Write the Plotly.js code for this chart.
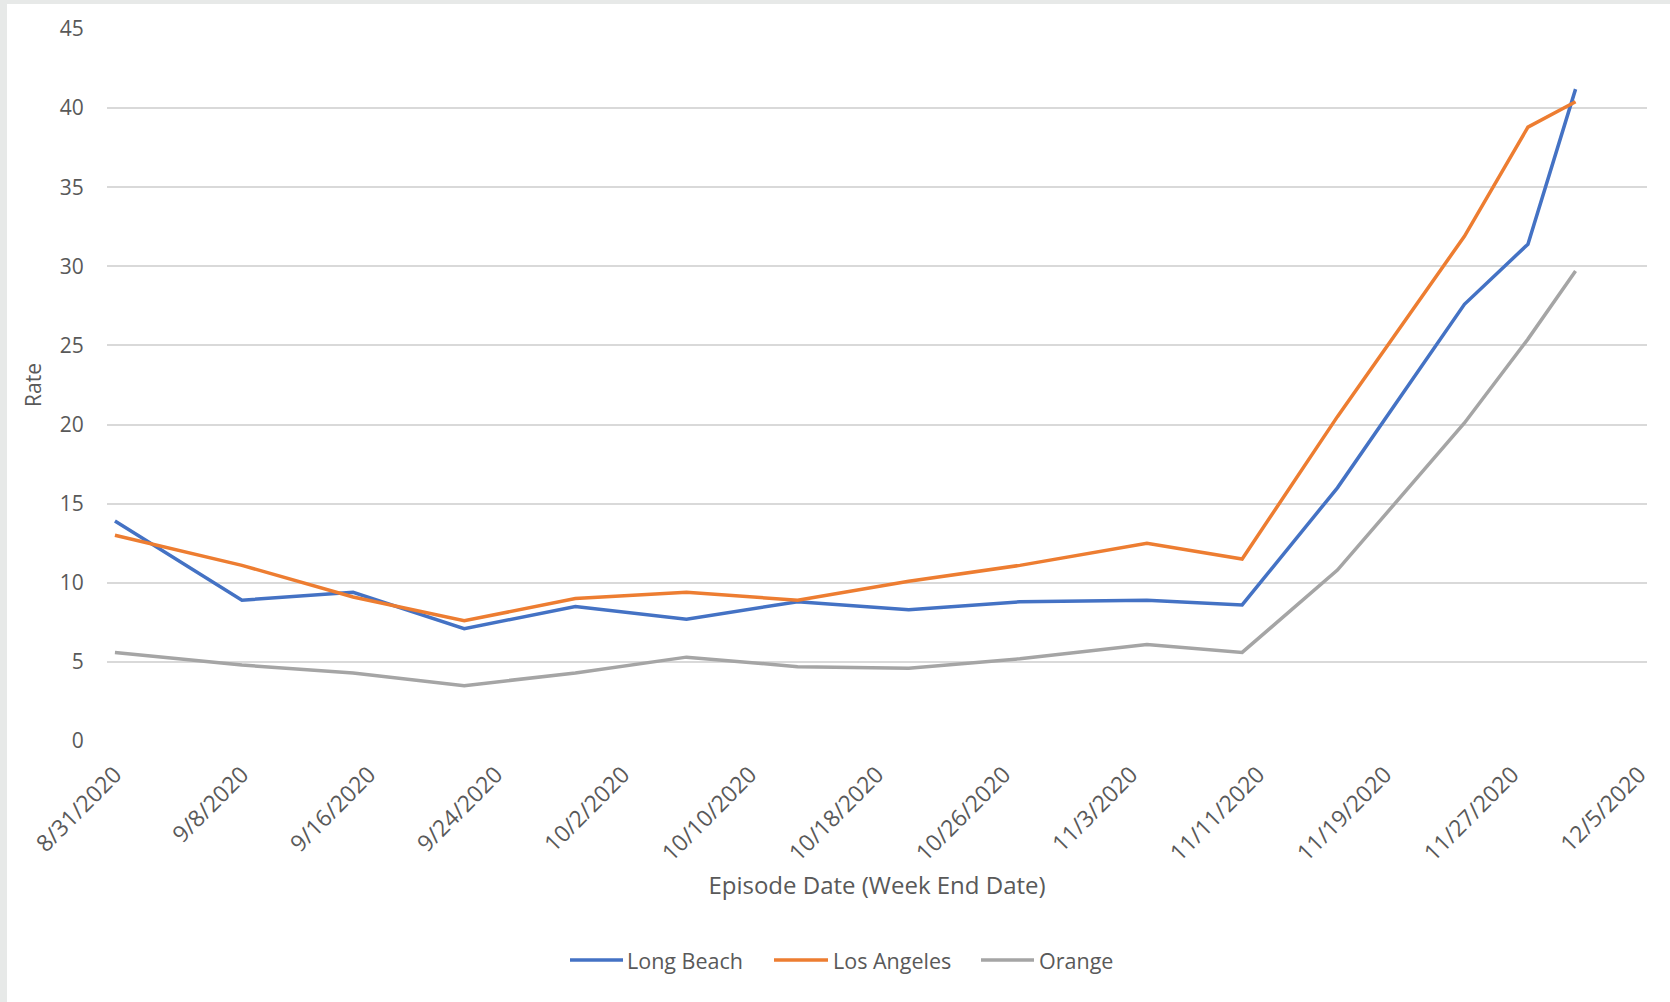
<!DOCTYPE html>
<html>
<head>
<meta charset="utf-8">
<script src="https://cdn.plot.ly/plotly-3.0.1.min.js"></script>
<style>
  html, body { margin: 0; padding: 0; background: #e7e9e8; width: 1670px; height: 1002px; overflow: hidden; }
  #chart { position: absolute; left: 7px; top: 4px; width: 1663px; height: 998px; background: #ffffff; }
</style>
</head>
<body>
<div id="chart"></div>
<script>
// Data
const weekEndDates = ['2020-08-31','2020-09-08','2020-09-15','2020-09-22','2020-09-29','2020-10-06','2020-10-13','2020-10-20','2020-10-27','2020-11-04','2020-11-10','2020-11-16','2020-11-24','2020-11-28','2020-12-01'];
const longBeach  = [13.9, 8.9, 9.4, 7.1, 8.5, 7.7, 8.8, 8.3, 8.8, 8.9, 8.6, 16.0, 27.6, 31.4, 41.2];
const losAngeles = [13.0, 11.1, 9.1, 7.6, 9.0, 9.4, 8.9, 10.1, 11.1, 12.5, 11.5, 20.5, 31.9, 38.8, 40.4];
const orange     = [5.6, 4.8, 4.3, 3.5, 4.3, 5.3, 4.7, 4.6, 5.2, 6.1, 5.6, 10.8, 20.1, 25.4, 29.7];

const tickDates  = ['2020-08-31','2020-09-08','2020-09-16','2020-09-24','2020-10-02','2020-10-10','2020-10-18','2020-10-26','2020-11-03','2020-11-11','2020-11-19','2020-11-27','2020-12-05'];
const tickLabels = ['8/31/2020','9/8/2020','9/16/2020','9/24/2020','10/2/2020','10/10/2020','10/18/2020','10/26/2020','11/3/2020','11/11/2020','11/19/2020','11/27/2020','12/5/2020'];
const yTicks = [0, 5, 10, 15, 20, 25, 30, 35, 40, 45];

const seriesNames = ['Long Beach', 'Los Angeles', 'Orange'];
const seriesValues = [longBeach, losAngeles, orange];
const seriesColors = ['#4472C4', '#ED7D31', '#A5A5A5'];

const textColor = '#595959';
const font = 'Open Sans, sans-serif';

// Plot geometry (pixels inside the chart div)
const W = 1663, H = 998;
const M = { l: 100, r: 23, t: 25, b: 261 };
const plotW = W - M.l - M.r, plotH = H - M.t - M.b;
const pxX = x => (x - M.l) / plotW;
const pxY = y => (H - M.b - y) / plotH;

const traces = seriesNames.map((name, i) => ({
  type: 'scatter',
  mode: 'lines',
  name: name,
  x: weekEndDates,
  y: seriesValues[i],
  line: { color: seriesColors[i], width: 3.5 },
  showlegend: false,
  hoverinfo: 'x+y+name'
}));

// Custom legend (Excel style: long line key, text right after it)
const legendY = 956;
const legendItems = [
  { lineX0: 563, lineX1: 616, textX: 619 },
  { lineX0: 767, lineX1: 821, textX: 825 },
  { lineX0: 974, lineX1: 1027, textX: 1031 }
];
const shapes = legendItems.map((it, i) => ({
  type: 'line', xref: 'paper', yref: 'paper',
  x0: pxX(it.lineX0), x1: pxX(it.lineX1), y0: pxY(legendY), y1: pxY(legendY),
  line: { color: seriesColors[i], width: 3.5 }
}));
const annotations = legendItems.map((it, i) => ({
  xref: 'paper', yref: 'paper',
  x: pxX(it.textX), y: pxY(legendY),
  xanchor: 'left', yanchor: 'middle',
  text: seriesNames[i], showarrow: false,
  borderpad: 0,
  font: { family: font, color: textColor, size: 21.5 }
}));

const layout = {
  width: W,
  height: H,
  paper_bgcolor: '#ffffff',
  plot_bgcolor: '#ffffff',
  margin: M,
  font: { family: font, color: textColor, size: 21 },
  showlegend: false,
  shapes: shapes,
  annotations: annotations,
  xaxis: {
    type: 'date',
    range: ['2020-08-30 12:00', '2020-12-05 12:00'],
    tickmode: 'array',
    tickvals: tickDates,
    ticktext: tickLabels,
    tickangle: -45,
    ticks: 'outside',
    ticklen: 10,
    tickcolor: 'rgba(0,0,0,0)',
    tickfont: { family: font, color: textColor, size: 23 },
    showgrid: false,
    showline: false,
    zeroline: false,
    fixedrange: true,
    automargin: false,
    title: { text: 'Episode Date (Week End Date)', font: { family: font, color: textColor, size: 24 }, standoff: 10 }
  },
  yaxis: {
    range: [0, 45],
    tickmode: 'array',
    tickvals: yTicks,
    ticks: 'outside',
    ticklen: 18,
    tickcolor: 'rgba(0,0,0,0)',
    tickfont: { family: font, color: textColor, size: 21 },
    showgrid: true,
    gridcolor: '#d9d9d9',
    gridwidth: 1.5,
    zeroline: false,
    showline: false,
    fixedrange: true,
    automargin: false,
    title: { text: 'Rate', font: { family: font, color: textColor, size: 21 }, standoff: 12 }
  }
};

Plotly.newPlot('chart', traces, layout, { displayModeBar: false });
</script>
</body>
</html>
